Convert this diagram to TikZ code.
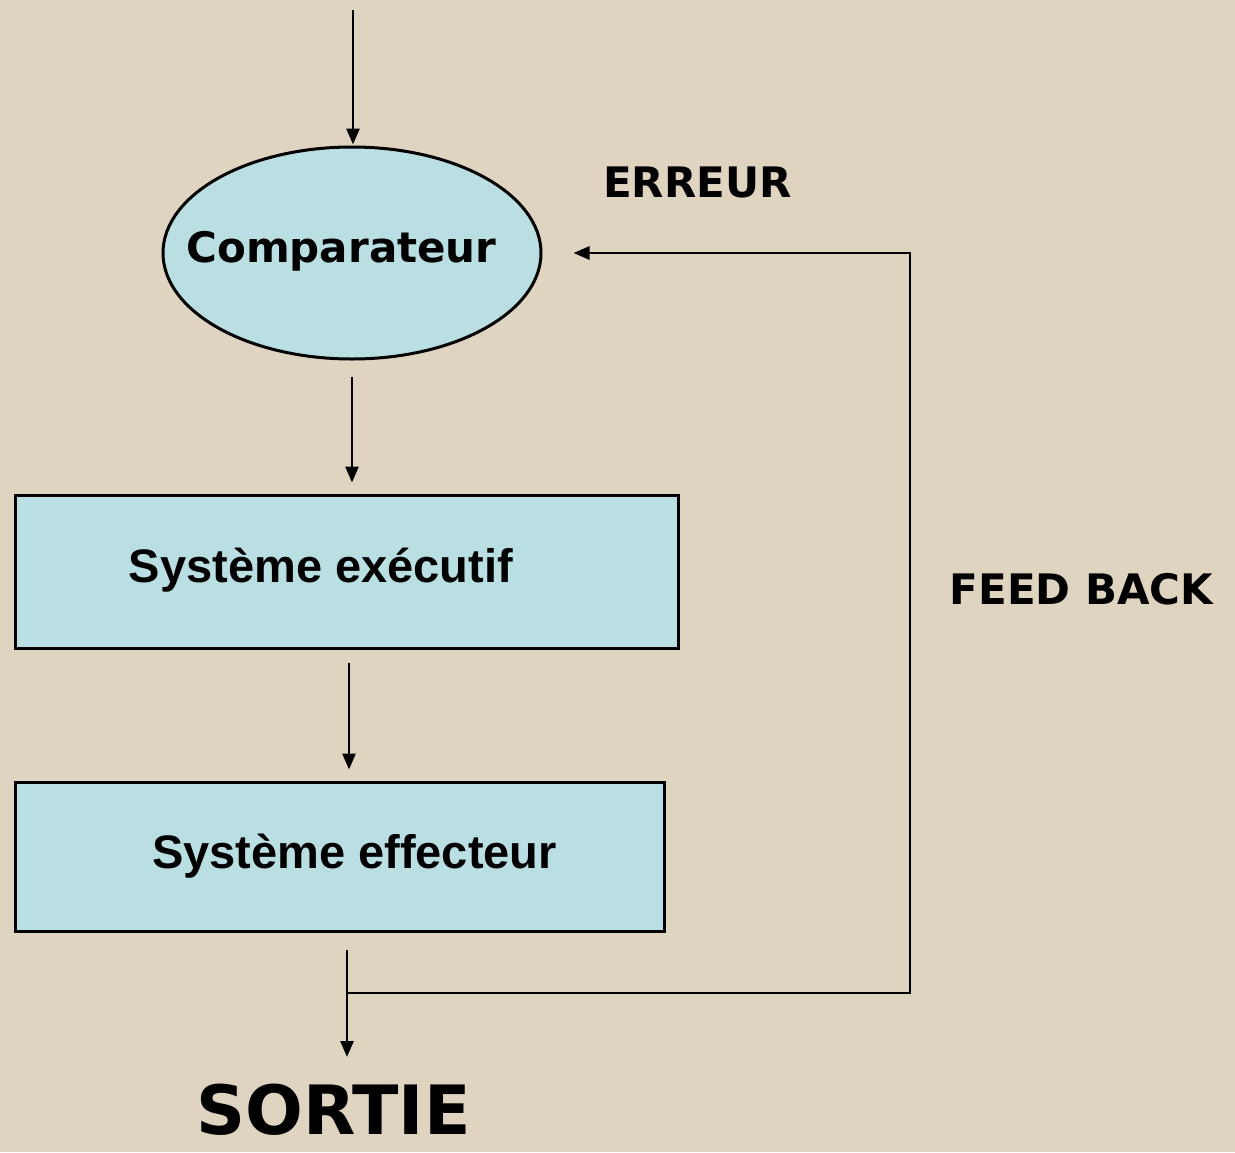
\documentclass[tikz,border=0pt]{standalone}
\usepackage{fontspec}
\usepackage{xcolor}
\usepackage{tikz}
\usetikzlibrary{arrows.meta,shapes.geometric}
\setmainfont{Liberation Sans}
\newfontfamily\verd{DejaVu Sans}
\definecolor{toile}{RGB}{223,212,191}
\definecolor{bleuclair}{RGB}{185,223,227}

\begin{document}
\begin{tikzpicture}[x=1pt,y=-1pt,
  bloc/.style={draw,line width=3pt,fill=bleuclair,inner sep=0pt},
  flow/.style={line width=2.8pt,-{Triangle[length=16pt,width=13pt]}},
  titre/.style={anchor=base,font=\verd\bfseries\fontsize{42}{46}\selectfont}]
\useasboundingbox[fill=toile] (0,0) rectangle (1235,1152);
% blocs
\node[bloc,ellipse,minimum width=378pt,minimum height=212pt] (cmp) at (352,253) {};
\node[titre] (cmplbl) at (341.5,262) {Comparateur};
\node[bloc,minimum width=663pt,minimum height=153pt] (exe) at (346.5,571.5) {};
\node[anchor=base,font=\bfseries\fontsize{47}{50}\selectfont] (exelbl) at (321,582) {Système exécutif};
\node[bloc,minimum width=649pt,minimum height=149pt] (eff) at (339.5,856.5) {};
\node[anchor=base,font=\bfseries\fontsize{47}{50}\selectfont] (efflbl) at (354.5,868) {Système effecteur};
% textes
\node[titre] (err) at (697.5,197) {ERREUR};
\node[titre] (fb) at (1081.5,604) {FEED BACK};
\node[titre,font=\verd\bfseries\fontsize{68}{72}\selectfont] (sortie) at (333.5,1134) {SORTIE};
% fleches
\coordinate (in) at (353,10);
\coordinate (br) at (347,993);
\coordinate (out) at (347,1057);
\coordinate (coin) at (910,993);
\draw[flow,shorten >=1pt] (in) -- (in |- cmp.north);
\draw[flow,shorten <=16pt,shorten >=11pt] (cmp.south) -- (cmp.south |- exe.north);
\draw[flow,shorten <=13pt,shorten >=11pt] (exe.south -| 349,0) -- (eff.north -| 349,0);
\draw[flow,shorten <=17pt] (eff.south -| br) -- (out);
\draw[flow,shorten >=31pt] (br) -- (coin) |- (cmp.east);
\end{tikzpicture}
\end{document}
